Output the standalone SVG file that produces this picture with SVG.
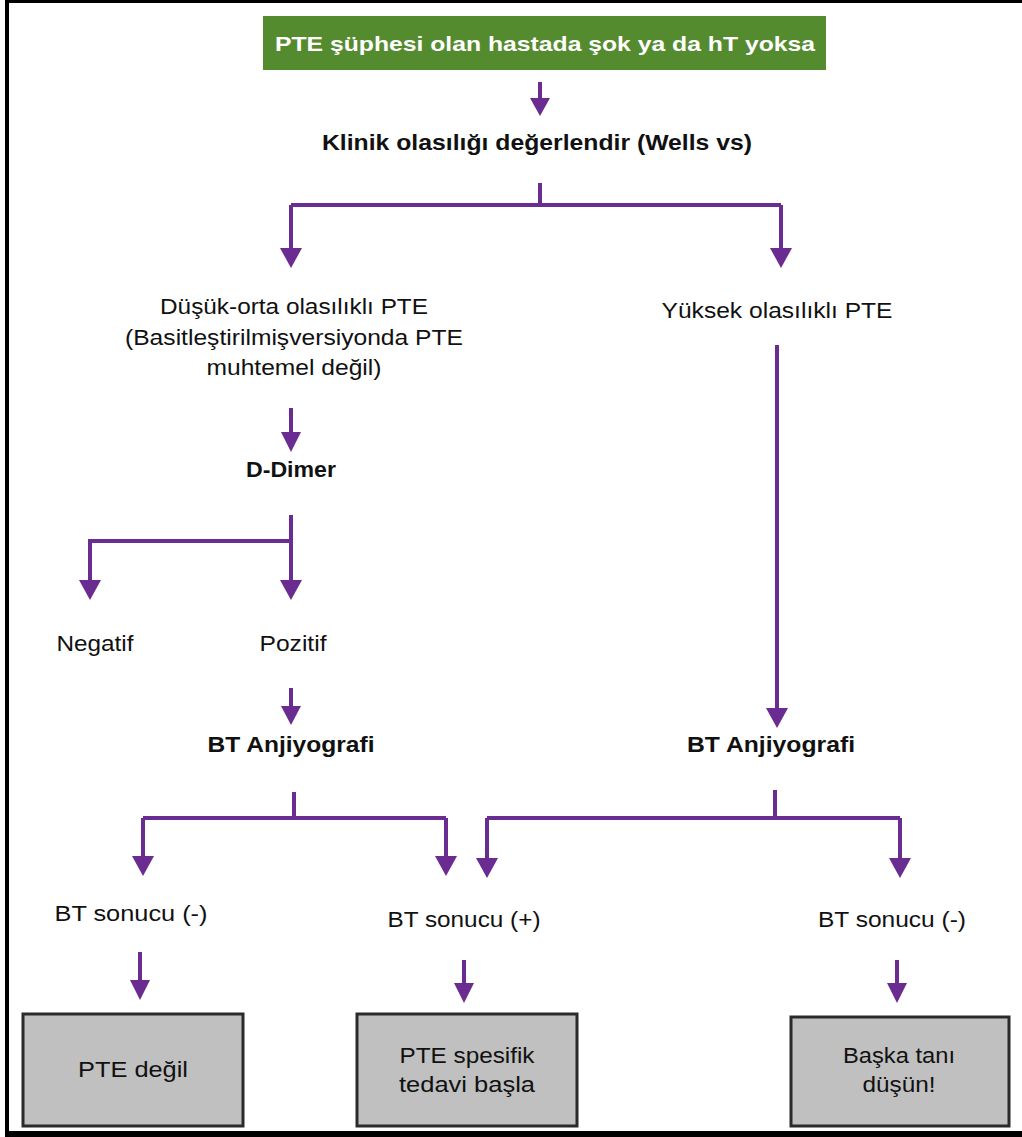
<svg xmlns="http://www.w3.org/2000/svg" width="1022" height="1137" viewBox="0 0 1022 1137">
<defs>
<style>
.t{font-family:"Liberation Sans",Arial,sans-serif;font-size:21.5px;fill:#111;text-anchor:middle}
.b{font-weight:bold}
.c{fill:none;stroke:#6a2c91;stroke-width:4}
.h{fill:#6a2c91}
.box{fill:#c0c0c0;stroke:#2a2a2a;stroke-width:3}
</style>
</defs>
<rect x="0" y="0" width="1022" height="1137" fill="#fff"/>
<g id="frame">
<rect x="5" y="0" width="4" height="1137" fill="#000"/>
<rect x="5" y="0" width="1017" height="3" fill="#000"/>
<rect x="5" y="1131" width="1017" height="6" fill="#000"/>
</g>
<g id="n-start">
<rect x="263" y="16" width="563" height="54" fill="#558b2f"/>
<text x="545" y="51" textLength="540" lengthAdjust="spacingAndGlyphs" style="font-family:'Liberation Sans',Arial,sans-serif;font-size:21px;fill:#fff;text-anchor:middle;font-weight:bold">PTE şüphesi olan hastada şok ya da hT yoksa</text>
</g>
<g id="n-klinik"><text class="t b" x="537" y="150" textLength="430" lengthAdjust="spacingAndGlyphs">Klinik olasılığı değerlendir (Wells vs)</text></g>
<g id="n-dusuk">
<text class="t" x="294" y="314" textLength="268" lengthAdjust="spacingAndGlyphs">Düşük-orta olasılıklı PTE</text>
<text class="t" x="294" y="345" textLength="338" lengthAdjust="spacingAndGlyphs">(Basitleştirilmişversiyonda PTE</text>
<text class="t" x="294" y="375" textLength="175" lengthAdjust="spacingAndGlyphs">muhtemel değil)</text>
</g>
<g id="n-yuksek"><text class="t" x="777" y="318" textLength="231" lengthAdjust="spacingAndGlyphs">Yüksek olasılıklı PTE</text></g>
<g id="n-ddimer"><text class="t b" x="291" y="477" textLength="90" lengthAdjust="spacingAndGlyphs">D-Dimer</text></g>
<g id="n-negatif"><text class="t" x="95" y="651" textLength="77" lengthAdjust="spacingAndGlyphs">Negatif</text></g>
<g id="n-pozitif"><text class="t" x="293" y="651" textLength="67" lengthAdjust="spacingAndGlyphs">Pozitif</text></g>
<g id="n-bt1"><text class="t b" x="291" y="752" textLength="167" lengthAdjust="spacingAndGlyphs">BT Anjiyografi</text></g>
<g id="n-bt2"><text class="t b" x="771" y="752" textLength="168" lengthAdjust="spacingAndGlyphs">BT Anjiyografi</text></g>
<g id="n-sonuc1"><text class="t" x="131" y="921" textLength="153" lengthAdjust="spacingAndGlyphs">BT sonucu (-)</text></g>
<g id="n-sonuc2"><text class="t" x="464" y="927" textLength="153" lengthAdjust="spacingAndGlyphs">BT sonucu (+)</text></g>
<g id="n-sonuc3"><text class="t" x="892" y="927" textLength="148" lengthAdjust="spacingAndGlyphs">BT sonucu (-)</text></g>
<g id="n-degil">
<rect class="box" x="23" y="1014" width="220" height="112"/>
<text class="t" x="133" y="1077" textLength="110" lengthAdjust="spacingAndGlyphs">PTE değil</text>
</g>
<g id="n-tedavi">
<rect class="box" x="357" y="1014" width="220" height="112"/>
<text class="t" x="467" y="1063" textLength="135" lengthAdjust="spacingAndGlyphs">PTE spesifik</text>
<text class="t" x="467" y="1092" textLength="136" lengthAdjust="spacingAndGlyphs">tedavi başla</text>
</g>
<g id="n-baska">
<rect class="box" x="791" y="1017" width="218" height="109"/>
<text class="t" x="899" y="1063" textLength="112" lengthAdjust="spacingAndGlyphs">Başka tanı</text>
<text class="t" x="899" y="1092" textLength="73" lengthAdjust="spacingAndGlyphs">düşün!</text>
</g>
<g id="connectors">
<path class="c" d="M540 82V100"/><path class="h" d="M530 98H550L540 116Z"/>
<path class="c" d="M540 183V205M291 205H781M291 205V250M781 205V250"/>
<path class="h" d="M280 248H302L291 268Z"/><path class="h" d="M770 248H792L781 268Z"/>
<path class="c" d="M777 345V710"/><path class="h" d="M766 708H788L777 728Z"/>
<path class="c" d="M291 408V434"/><path class="h" d="M281 432H301L291 452Z"/>
<path class="c" d="M291 515V582M291 541H90V582"/>
<path class="h" d="M79 580H101L90 600Z"/><path class="h" d="M280 580H302L291 600Z"/>
<path class="c" d="M291 688V708"/><path class="h" d="M281 706H301L291 725Z"/>
<path class="c" d="M294 792V818M143 818H446M143 818V858M446 818V858"/>
<path class="h" d="M132 856H154L143 876Z"/><path class="h" d="M435 856H457L446 876Z"/>
<path class="c" d="M775 790V818M487 818H900M487 818V860M900 818V860"/>
<path class="h" d="M476 858H498L487 878Z"/><path class="h" d="M889 858H911L900 878Z"/>
<path class="c" d="M140 952V982"/><path class="h" d="M130 980H150L140 1000Z"/>
<path class="c" d="M464 960V985"/><path class="h" d="M454 983H474L464 1003Z"/>
<path class="c" d="M897 960V985"/><path class="h" d="M887 983H907L897 1003Z"/>
</g>
</svg>
